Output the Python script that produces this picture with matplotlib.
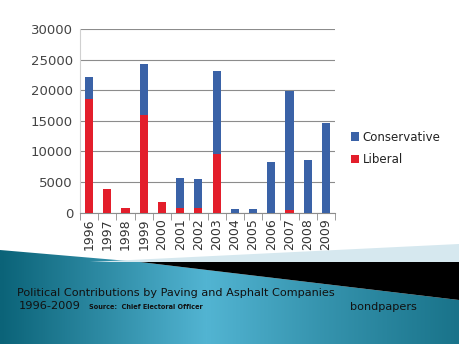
import numpy as np
import matplotlib.pyplot as plt
from matplotlib.patches import Polygon
from matplotlib.colors import LinearSegmentedColormap

years = ['1996', '1997', '1998', '1999', '2000', '2001', '2002',
         '2003', '2004', '2005', '2006', '2007', '2008', '2009']
liberal = [18600, 3850, 800, 16000, 1750, 700, 700,
           9550, 0, 0, 0, 450, 0, 0]
conservative = [3600, 0, 0, 8300, 0, 4950, 4750,
                13650, 600, 600, 8300, 19450, 8600, 14700]

W, H = 459, 344
fig = plt.figure(figsize=(W / 100, H / 100), dpi=100)
fig.patch.set_facecolor('white')

# background band at the bottom
bg = fig.add_axes([0, 0, 1, 1], zorder=0)
bg.set_xlim(0, W)
bg.set_ylim(H, 0)
bg.axis('off')

pale = Polygon([(90, 262), (459, 244), (459, 262)], closed=True,
               facecolor='#d6e8ef', edgecolor='none')
bg.add_patch(pale)
black = Polygon([(140, 262), (459, 262), (459, 300)], closed=True,
                facecolor='black', edgecolor='none')
bg.add_patch(black)

xs = np.linspace(0, 1, 300)
prof = np.interp(xs, [0, 0.25, 0.45, 0.7, 1.0], [0.0, 0.55, 1.0, 0.6, 0.2])
grad = np.tile(prof, (50, 1))
cmap = LinearSegmentedColormap.from_list('teal', ['#0b6378', '#52b4d2'])
im = bg.imshow(grad, cmap=cmap, extent=[0, W, H, 240], aspect='auto')
teal = Polygon([(0, 250), (140, 262), (459, 300), (459, 344), (0, 344)],
               closed=True, facecolor='none', edgecolor='none')
bg.add_patch(teal)
im.set_clip_path(teal)

# chart
ax = fig.add_axes([80 / W, 1 - 212.5 / H, 255 / W, 183.5 / H], zorder=1)
ax.patch.set_alpha(0)
x = np.arange(len(years))
ax.bar(x, liberal, width=0.45, color='#e31e2b', label='Liberal', zorder=3)
ax.bar(x, conservative, width=0.45, bottom=liberal, color='#3a62a7',
       label='Conservative', zorder=3)

ax.set_ylim(0, 30000)
ax.set_xlim(-0.5, len(years) - 0.5)
ax.set_yticks(range(0, 30001, 5000))
ax.yaxis.grid(True, color='#8c8c8c', linewidth=0.8)
ax.set_axisbelow(True)
for s in ['top', 'right']:
    ax.spines[s].set_visible(False)
ax.spines['left'].set_color('#d0d0d0')
ax.spines['bottom'].set_color('#8c8c8c')
ax.tick_params(axis='y', length=0, labelsize=9.5, colors='#444444', pad=5)
ax.set_xticks(x)
ax.set_xticklabels(years, rotation=90, fontsize=9, color='#333333')
ax.tick_params(axis='x', length=0, pad=4)
ax.set_xticks(np.arange(-0.5, len(years), 1), minor=True)
ax.tick_params(axis='x', which='minor', length=5, color='#8c8c8c')

h, l = ax.get_legend_handles_labels()
fig.legend(h[::-1], l[::-1], loc='upper left',
           bbox_to_anchor=(340 / W, 1 - 120 / H), frameon=False,
           fontsize=8.5, handlelength=0.7, handleheight=0.7,
           handletextpad=0.3, labelspacing=0.8, labelcolor='#222222')

fig.text(17 / W, 1 - 293 / H,
         'Political Contributions by Paving and Asphalt Companies',
         fontsize=8.1, color='#111111', va='center')
fig.text(19 / W, 1 - 306 / H, '1996-2009', fontsize=8.2, color='#111111',
         va='center')
fig.text(89 / W, 1 - 307 / H, 'Source:  Chief Electoral Officer',
         fontsize=4.7, color='#111111', va='center', fontweight='bold')
fig.text(350 / W, 1 - 307 / H, 'bondpapers', fontsize=8.1, color='#111111',
         va='center')

fig.savefig('out.png', dpi=100)
